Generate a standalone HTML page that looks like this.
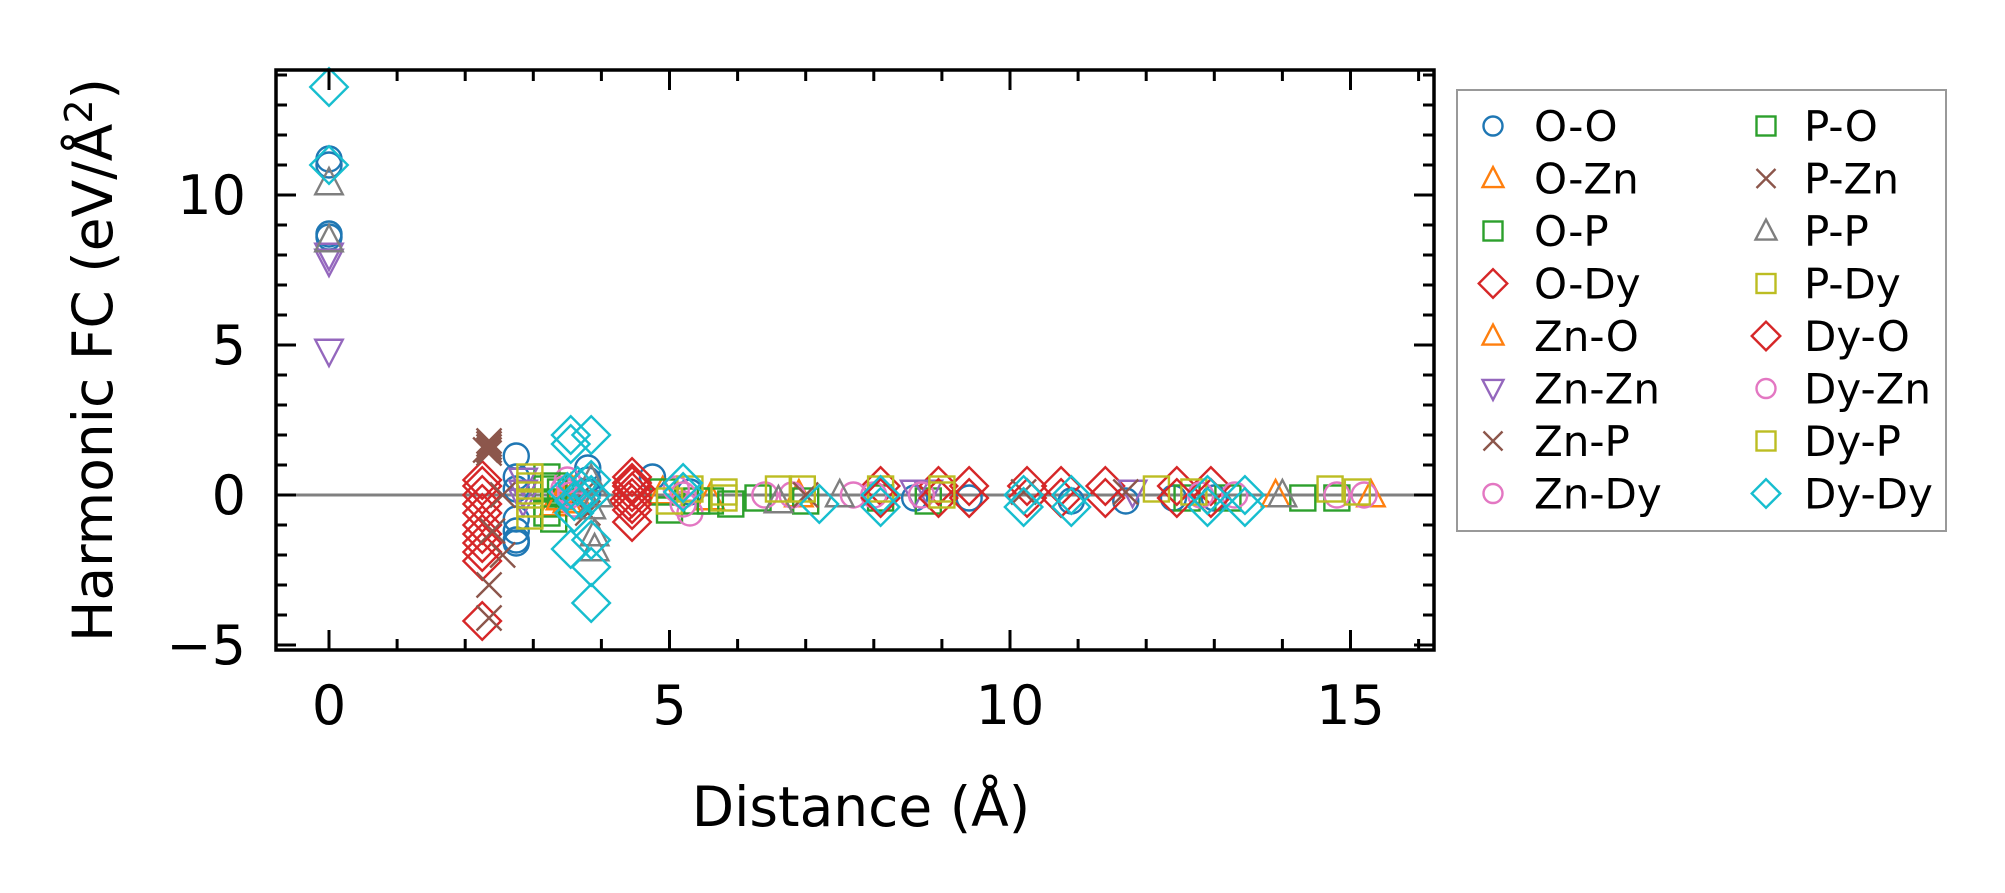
<!DOCTYPE html>
<html><head><meta charset="utf-8"><style>
html,body{margin:0;padding:0;background:#fff}
svg{display:block;font-family:"DejaVu Sans","Liberation Sans",sans-serif}
</style></head><body>
<svg id="chart" width="2005" height="893" viewBox="0 0 2005 893">
<rect width="2005" height="893" fill="#fff"/>
<g id="marks"></g>
<g id="axes"></g>
<g id="legend"></g>
</svg>
<script>
const xTicks=[0,5,10,15];
const yTicks=[-5,0,5,10];
const seriesNames=["O-O","O-Zn","O-P","O-Dy","Zn-O","Zn-Zn","Zn-P","Zn-Dy","P-O","P-Zn","P-P","P-Dy","Dy-O","Dy-Zn","Dy-P","Dy-Dy"];
const ooX=[0,0,0,0,2.75,2.75,2.75,2.75,2.75,2.75,2.75,3.8,3.8,3.8,4.75,5.3,8.6,9.4,10.9,11.7,12.4,13.0];
const ooY=[11.2,11.0,8.7,8.6,1.3,0.6,0.2,-0.8,-1.2,-1.5,-1.6,0.9,0.5,0.1,0.6,0.1,-0.1,-0.1,-0.2,-0.2,-0.1,-0.1];
const ozX=[3.3,3.5,3.6,4.9,5.6,6.9,13.9,15.3];
const ozY=[-0.3,-0.2,0.1,0.1,-0.1,0.0,0.0,0.0];
const opX=[3.2,3.2,3.2,3.2,3.3,3.4,4.9,5.0,5.4,5.9,6.3,7.0,8.1,8.8,12.6,13.2,14.3,14.8];
const opY=[0.6,0.2,-0.3,-0.6,-0.8,0.1,0.1,-0.5,-0.2,-0.3,-0.1,-0.2,-0.1,-0.2,-0.1,-0.1,-0.1,-0.1];
const odX=[2.25,2.25,2.25,2.25,2.25,2.25,2.25,2.25,2.25,2.25,2.25,4.45,4.45,4.45,4.45,4.45,4.45,4.45,4.5,4.4,8.1,8.95,9.4,10.25,10.75,11.4,12.45,12.95];
const odY=[0.5,0.3,0,-0.3,-0.6,-1.0,-1.3,-1.6,-1.9,-2.2,-4.2,0.6,0.3,0.1,-0.1,-0.3,-0.5,-0.9,0.2,-0.2,0.3,0.3,0.3,0.3,0.3,0.3,0.3,0.3];
const zoX=[3.4,3.55];
const zoY=[-0.1,0.2];
const zzX=[0,0,0,2.85,2.85,2.85,8.6,8.8,11.8];
const zzY=[8.0,7.8,4.8,0.5,0.1,-0.2,0.1,0.1,0.1];
const zpX=[2.35,2.35,2.35,2.35,2.35,2.35,2.35,2.55,2.55,2.4,3.75,3.8,10.2,11.7];
const zpY=[1.8,1.7,1.6,1.5,1.4,-3.0,-4.1,-2.0,0.0,-1.2,0.1,-0.6,0.1,0.1];
const zdX=[3.5,3.55,3.6,3.45,5.1,5.2,5.3,6.4,6.8,7.7,8.0,8.7,12.8,13.3,14.8,15.2];
const zdY=[0.5,0.1,-0.3,0.2,0.2,-0.3,-0.6,0,0,0,0,0,0,0,0,0];
const poX=[3.3,5.6];
const poY=[0.3,-0.2];
const pzX=[2.3,7.0];
const pzY=[1.5,0.0];
const ppX=[0,0,3.85,3.85,3.9,3.9,3.95,6.6,7.5,14.0];
const ppY=[10.4,8.5,0.5,-0.4,-1.3,-1.8,0.0,-0.2,0.0,0.0];
const pdX=[2.95,2.95,2.95,2.95,2.95,5.0,5.3,5.8,6.6,6.95,8.1,9.0,12.15,12.7,14.7,15.1];
const pdY=[0.6,0.3,0,-0.3,-0.7,-0.2,0.2,0.1,0.2,0.2,0.2,0.2,0.2,0.1,0.2,0.1];
const doX=[4.45,8.1,8.95,9.4,10.25,10.75,11.4,12.45,12.95];
const doY=[0.4,-0.1,-0.1,-0.1,-0.1,-0.1,-0.1,-0.1,-0.1];
const dzX=[3.55,5.2];
const dzY=[0.0,0.0];
const dpX=[5.8,9.0];
const dpY=[-0.1,0.0];
const ddX=[0,0,3.55,3.55,3.6,3.6,3.55,3.5,3.65,3.7,3.85,3.85,3.85,3.85,3.85,3.85,5.2,5.2,7.2,8.1,8.1,10.2,10.2,10.9,10.9,12.9,12.9,13.45,13.45];
const ddY=[13.6,11.0,2.0,1.7,-0.2,-0.6,-1.8,0.1,0.3,-0.1,2.0,0.5,0.0,-1.5,-2.4,-3.6,0.4,0.1,-0.3,0.0,-0.4,0.0,-0.4,0.0,-0.4,0.0,-0.4,0.0,-0.4];

const C={blue:"#1f77b4",orange:"#ff7f0e",green:"#2ca02c",red:"#d62728",purple:"#9467bd",brown:"#8c564b",pink:"#e377c2",gray:"#7f7f7f",olive:"#bcbd22",cyan:"#17becf"};
const series=[
 [ooX,ooY,"circle",C.blue],[ozX,ozY,"tri",C.orange],[opX,opY,"square",C.green],[odX,odY,"diamond",C.red],
 [zoX,zoY,"tri",C.orange],[zzX,zzY,"tridown",C.purple],[zpX,zpY,"x",C.brown],[zdX,zdY,"circle",C.pink],
 [poX,poY,"square",C.green],[pzX,pzY,"x",C.brown],[ppX,ppY,"tri",C.gray],[pdX,pdY,"square",C.olive],
 [doX,doY,"diamond",C.red],[dzX,dzY,"circle",C.pink],[dpX,dpY,"square",C.olive],[ddX,ddY,"diamond",C.cyan]];

const L=276,R=1434,T=70,B=650;
const x0=329,xs=68.1,y0=495,ys=30;
const sx=v=>x0+v*xs, sy=v=>y0-v*ys;
const NS="http://www.w3.org/2000/svg";
function mk(tag,attrs,parent){const e=document.createElementNS(NS,tag);for(const k in attrs)e.setAttribute(k,attrs[k]);parent.appendChild(e);return e;}
function marker(g,type,cx,cy,col,s){
 const st={fill:"none",stroke:col,"stroke-width":2.4};
 let e;
 if(type==="circle")e=mk("circle",Object.assign({cx,cy,r:10*s},st),g);
 else if(type==="square")e=mk("rect",Object.assign({x:cx-10*s,y:cy-10*s,width:20*s,height:20*s},st),g);
 else if(type==="diamond")e=mk("polygon",Object.assign({points:`${cx},${cy-15*s} ${cx+15*s},${cy} ${cx},${cy+15*s} ${cx-15*s},${cy}`},st),g);
 else if(type==="tri")e=mk("polygon",Object.assign({points:`${cx},${cy-12*s} ${cx+11*s},${cy+9*s} ${cx-11*s},${cy+9*s}`},st),g);
 else if(type==="tridown")e=mk("polygon",Object.assign({points:`${cx},${cy+12*s} ${cx+11*s},${cy-9*s} ${cx-11*s},${cy-9*s}`},st),g);
 else {e=mk("path",Object.assign({d:`M${cx-10*s},${cy-10*s}L${cx+10*s},${cy+10*s}M${cx-10*s},${cy+10*s}L${cx+10*s},${cy-10*s}`},st),g);}
 return e;
}
const marks=document.getElementById("marks");
const zl=mk("line",{x1:L,x2:R,y1:sy(0),y2:sy(0),stroke:"#808080","stroke-width":3},marks);


series.forEach((s,i)=>{
 const g=mk("g",{},marks);
 
 
 s[0].forEach((xv,j)=>{
  const m=marker(g,s[2],sx(xv),sy(s[1][j]),s[3],1.25);
  
  
 });
});
const axes=document.getElementById("axes");
const fr=mk("rect",{x:L,y:T,width:R-L,height:B-T,fill:"none",stroke:"#000","stroke-width":3.5},axes);


for(let v=0;v<=16;v++){
 const len=v%5===0?20:11,x=sx(v);
 mk("line",{x1:x,x2:x,y1:B,y2:B-len,stroke:"#000","stroke-width":3},axes);
 mk("line",{x1:x,x2:x,y1:T,y2:T+len,stroke:"#000","stroke-width":3},axes);
}
for(let v=-5;v<=14;v++){
 const len=v%5===0?20:11,y=sy(v);
 mk("line",{x1:L,x2:L+len,y1:y,y2:y,stroke:"#000","stroke-width":3},axes);
 mk("line",{x1:R,x2:R-len,y1:y,y2:y,stroke:"#000","stroke-width":3},axes);
}
xTicks.forEach(v=>{
 const t=mk("text",{x:sx(v),y:724,"font-size":54,"text-anchor":"middle"},axes);
 t.textContent=String(v);
 
 
});
yTicks.forEach(v=>{
 const t=mk("text",{x:246,y:sy(v)+19,"font-size":54,"text-anchor":"end"},axes);
 t.textContent=v<0?"\u2212"+Math.abs(v):String(v);
 
 
});
const xl=mk("text",{x:861,y:826,"font-size":55,"text-anchor":"middle"},axes);
xl.textContent="Distance (Å)";


const yl=mk("text",{x:0,y:0,"font-size":55,"text-anchor":"middle",transform:"translate(112,360) rotate(-90)"},axes);
yl.innerHTML='Harmonic FC (eV/Å<tspan dy="-20" font-size="38">2</tspan><tspan dy="20">)</tspan>';


const lg=document.getElementById("legend");
const lb=mk("rect",{x:1457,y:90,width:489,height:441,fill:"#fff",stroke:"#999","stroke-width":2},lg);


series.forEach((s,i)=>{
 const col=Math.floor(i/8),row=i%8;
 const y=126+row*52.5;
 const mx=col?1766:1493, tx=col?1804:1534;
 const g=mk("g",{},lg);
 
 
 marker(g,s[2],mx,y,s[3],0.95);
 const t=mk("text",{x:tx,y:y+15,"font-size":42},g);
 t.textContent=seriesNames[i];
});
</script>
</body></html>
